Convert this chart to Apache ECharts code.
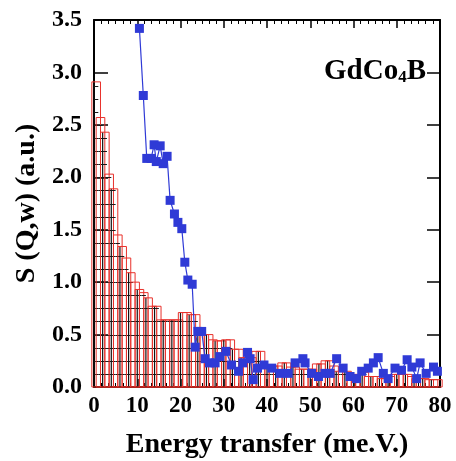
<!DOCTYPE html>
<html>
<head>
<meta charset="utf-8">
<script src="https://cdn.jsdelivr.net/npm/echarts@6/dist/echarts.min.js"></script>
<style>
  html, body { margin: 0; padding: 0; background: #fff; }
  #chart { width: 456px; height: 461px; }
</style>
</head>
<body>
<div id="chart"></div>
<script>
// histogram S(Q,w), one value per 1 meV bin starting at 0
const histVals = [
  2.91, 2.57, 2.43, 2.03, 1.89, 1.45, 1.34, 1.23, 1.09, 1.00,
  0.93, 0.90, 0.85, 0.77, 0.77, 0.64, 0.64, 0.64, 0.64, 0.64,
  0.71, 0.71, 0.69, 0.69, 0.55, 0.50, 0.50, 0.45, 0.44, 0.44,
  0.45, 0.45, 0.36, 0.36, 0.28, 0.28, 0.28, 0.34, 0.34, 0.20,
  0.20, 0.20, 0.20, 0.23, 0.23, 0.19, 0.19, 0.17, 0.17, 0.17,
  0.17, 0.22, 0.22, 0.25, 0.25, 0.20, 0.15, 0.15, 0.15, 0.12,
  0.12, 0.12, 0.14, 0.10, 0.10, 0.10, 0.08, 0.08, 0.10, 0.12,
  0.12, 0.12, 0.12, 0.10, 0.08, 0.08, 0.08, 0.07, 0.07, 0.07
];

// measured points (blue squares)
const energyPts = [
  10.5, 11.4, 12.2, 13.2, 13.9, 14.4, 15.3, 16.0, 16.9, 17.6,
  18.6, 19.4, 20.3, 21.0, 21.7, 22.7, 23.4, 24.0, 24.9, 25.7,
  26.7, 28.0, 29.1, 30.5, 31.8, 33.4, 34.4, 35.5, 36.1, 36.8,
  37.8, 39.3, 41.1, 43.0, 44.9, 46.5, 48.3, 48.8, 50.3, 51.9,
  53.4, 54.6, 56.1, 57.6, 59.2, 60.7, 61.9, 63.4, 64.6, 65.7,
  66.9, 68.0, 69.6, 71.1, 72.4, 73.5, 74.6, 75.4, 76.8, 78.5, 79.4
];
const sqwPts = [
  3.42, 2.78, 2.18, 2.18, 2.31, 2.15, 2.30, 2.13, 2.20, 1.78,
  1.65, 1.57, 1.51, 1.19, 1.02, 0.98, 0.38, 0.53, 0.53, 0.27,
  0.23, 0.23, 0.29, 0.34, 0.21, 0.15, 0.23, 0.33, 0.27, 0.07,
  0.18, 0.21, 0.18, 0.13, 0.13, 0.23, 0.27, 0.23, 0.13, 0.10,
  0.13, 0.13, 0.27, 0.18, 0.10, 0.08, 0.15, 0.18, 0.23, 0.28,
  0.13, 0.08, 0.18, 0.16, 0.26, 0.19, 0.08, 0.23, 0.13, 0.19, 0.15
];

const xTicks = [0, 10, 20, 30, 40, 50, 60, 70, 80];
const yTicks = [0, 0.5, 1.0, 1.5, 2.0, 2.5, 3.0, 3.5];

const FONT = "'Liberation Serif', 'DejaVu Serif', serif";
const RED = '#e8312b';
const BLUE = '#2f3ad6';

const histData = histVals.map(function (v, i) { return [i, v]; });
const ptData = energyPts.map(function (x, i) { return [x, sqwPts[i]]; });

function renderBin(params, api) {
  const x = api.value(0);
  const h = api.value(1);
  const children = [];
  // black hatch lines inside the bar
  for (let y = 0.125; y < h; y += 0.125) {
    const a = api.coord([x, y]);
    const b = api.coord([x + 1, y]);
    children.push({ type: 'line', shape: { x1: a[0], y1: Math.round(a[1]) + 0.5, x2: b[0], y2: Math.round(b[1]) + 0.5 },
      style: { stroke: '#1a1a1a', lineWidth: 1 } });
  }
  if (params.dataIndex % 2 === 0) {
    const t = api.coord([x, h]);
    const o = api.coord([x, 0]);
    children.push({ type: 'line', shape: { x1: t[0], y1: t[1], x2: o[0], y2: o[1] },
      style: { stroke: '#111', lineWidth: 1.2 } });
  }
  // red outline, 2 bins wide, overlapping
  const p0 = api.coord([x - 0.5, h]);
  const p1 = api.coord([x + 1.5, 0]);
  children.push({ type: 'rect',
    shape: { x: p0[0], y: p0[1], width: p1[0] - p0[0], height: p1[1] - p0[1] },
    style: { fill: 'none', stroke: RED, lineWidth: 1 } });
  return { type: 'group', children: children };
}

function frameAxis(extra) {
  return Object.assign({
    type: 'value',
    axisLine: { show: true, onZero: false, lineStyle: { color: '#000', width: 2 } },
    splitLine: { show: false }
  }, extra);
}

const chart = echarts.init(document.getElementById('chart'));
const option = {
  backgroundColor: '#fff',
  animation: false,
  grid: { left: 94, right: 16, top: 20, bottom: 74, outerBoundsMode: 'none', containLabel: false },
  xAxis: [
    frameAxis({
      min: 0, max: 80, interval: 10, position: 'bottom',
      axisTick: { show: true, inside: true, length: 8, lineStyle: { color: '#000', width: 1.5 } },
      minorTick: { show: true, splitNumber: 6, length: 4, lineStyle: { color: '#000', width: 1 } },
      axisLabel: {
        color: '#000', fontFamily: FONT, fontWeight: 'bold', fontSize: 23, margin: 8,
        formatter: function (v) { return xTicks.indexOf(v) >= 0 ? String(v) : ''; }
      },
      name: 'Energy transfer (me.V.)', nameLocation: 'middle', nameGap: 44,
      nameTextStyle: { color: '#000', fontFamily: FONT, fontWeight: 'bold', fontSize: 28 }
    }),
    frameAxis({
      min: 0, max: 80, interval: 10, position: 'top',
      axisTick: { show: true, inside: true, length: 8, lineStyle: { color: '#000', width: 1.5 } },
      minorTick: { show: true, splitNumber: 6, length: 4, lineStyle: { color: '#000', width: 1 } },
      axisLabel: { show: false }
    })
  ],
  yAxis: [
    frameAxis({
      min: 0, max: 3.5, interval: 0.5, position: 'left',
      axisTick: { show: true, inside: true, length: 14, lineStyle: { color: '#000', width: 1.5 } },
      axisLabel: {
        color: '#000', fontFamily: FONT, fontWeight: 'bold', fontSize: 24, margin: 12,
        formatter: function (v) { return yTicks.indexOf(v) >= 0 ? v.toFixed(1) : ''; }
      },
      name: 'S (Q,w) (a.u.)', nameLocation: 'middle', nameGap: 52, nameRotate: 90,
      nameTextStyle: { color: '#000', fontFamily: FONT, fontWeight: 'bold', fontSize: 28 }
    }),
    frameAxis({
      min: 0, max: 3.5, interval: 0.5, position: 'right',
      axisTick: { show: true, inside: true, length: 13, lineStyle: { color: '#000', width: 1.5 } },
      axisLabel: { show: false }
    })
  ],
  graphic: [
    {
      type: 'text', right: 30, top: 57, z: 10,
      style: {
        text: '{a|GdCo}{s|4}{a|B}',
        rich: {
          a: { fontFamily: FONT, fontWeight: 'bold', fontSize: 29, fill: '#000' },
          s: { fontFamily: FONT, fontWeight: 'bold', fontSize: 17, fill: '#000', verticalAlign: 'bottom', padding: [12, 0, 0, 0] }
        }
      }
    }
  ],
  series: [
    {
      name: 'hist', type: 'custom', xAxisIndex: 0, yAxisIndex: 0,
      renderItem: renderBin, data: histData, clip: false, z: 2
    },
    {
      name: 'data', type: 'line', xAxisIndex: 0, yAxisIndex: 0,
      data: ptData, symbol: 'rect', symbolSize: 9,
      itemStyle: { color: BLUE },
      lineStyle: { color: BLUE, width: 1.2 }, z: 5
    }
  ]
};
chart.setOption(option);
</script>
</body>
</html>
